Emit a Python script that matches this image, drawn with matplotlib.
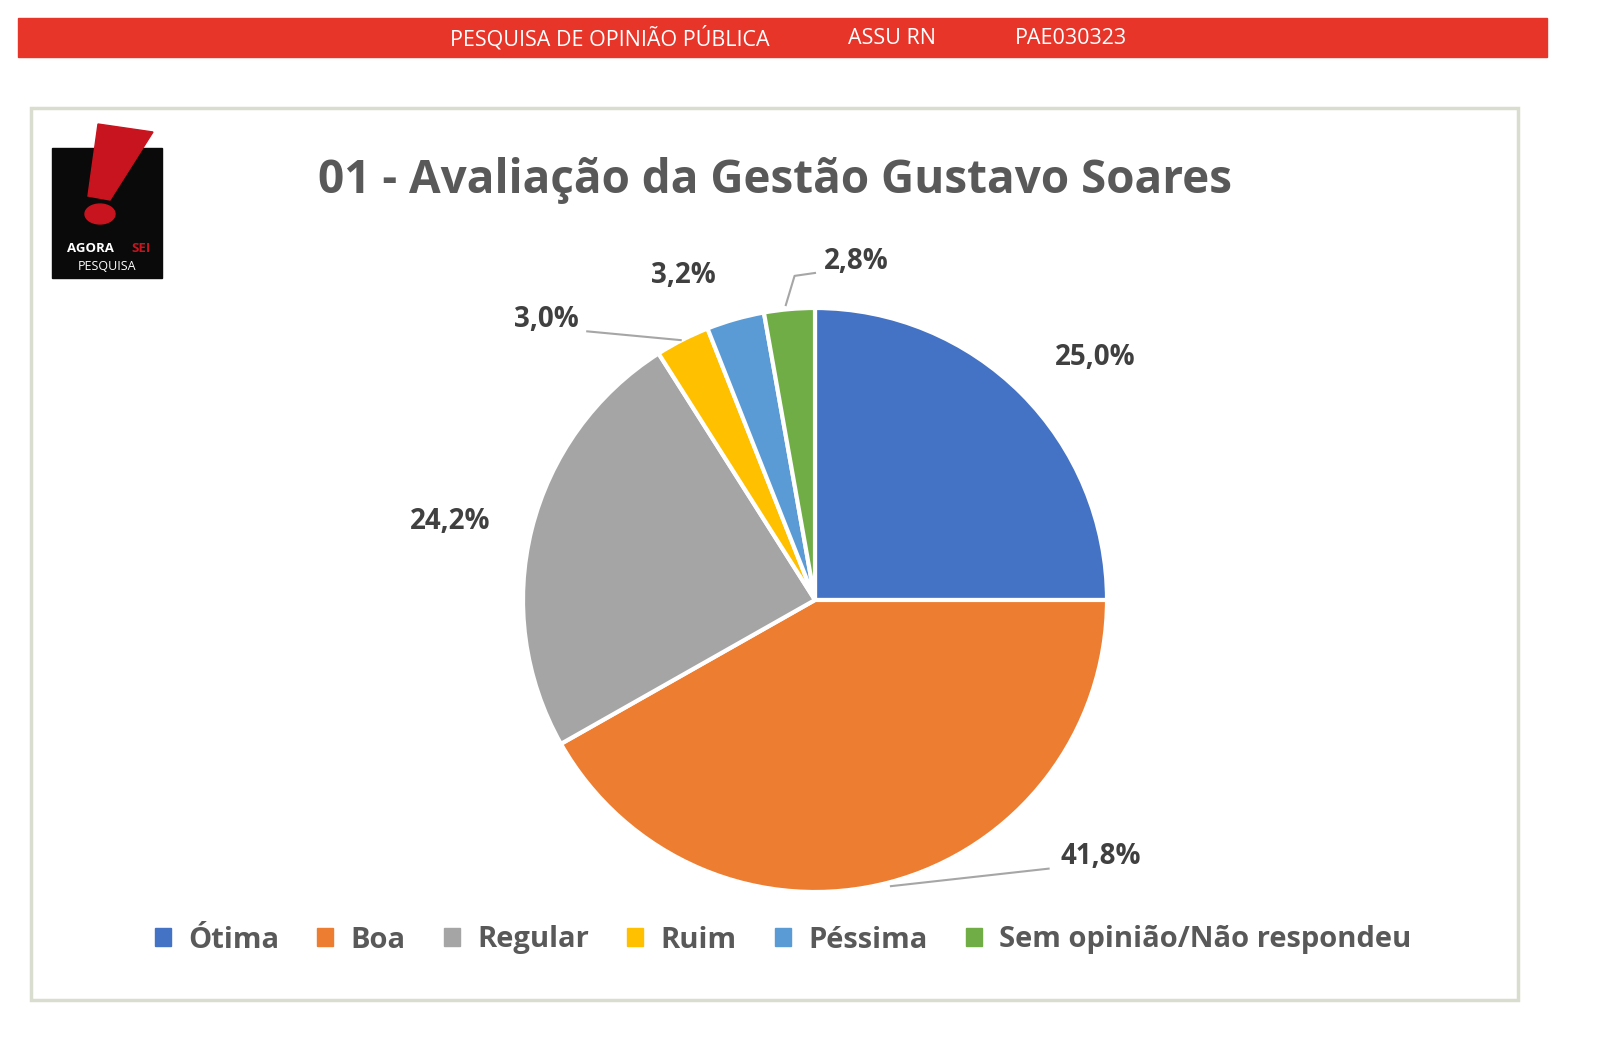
import matplotlib.pyplot as plt
from matplotlib.patches import Rectangle, Polygon, Circle

categories = ["Ótima", "Boa", "Regular", "Ruim", "Péssima", "Sem opinião/Não respondeu"]
values = [25.0, 41.8, 24.2, 3.0, 3.2, 2.8]
colors = ["#4472C4", "#ED7D31", "#A5A5A5", "#FFC000", "#5B9BD5", "#70AD47"]
header_parts = ["PESQUISA DE OPINIÃO PÚBLICA", "ASSU RN", "PAE030323"]
title = "01 - Avaliação da Gestão Gustavo Soares"

plt.rcParams["font.family"] = ["Open Sans", "DejaVu Sans"]
W, H = 1600, 1060
fig = plt.figure(figsize=(16, 10.6), dpi=100)


def fx(px):
    return px / W


def fy(py):
    return 1 - py / H


# header bar
fig.patches.append(Rectangle((fx(18), fy(57)), fx(1547) - fx(18), fy(18) - fy(57),
                             transform=fig.transFigure, color="#E8352A", zorder=0))
for txt, x in zip(header_parts, [610, 892, 1071]):
    fig.text(fx(x), fy(38), txt, color="white", fontsize=15.5, ha="center", va="center")

# chart frame
fig.patches.append(Rectangle((fx(31), fy(1000)), fx(1518) - fx(31), fy(108) - fy(1000),
                             transform=fig.transFigure, fill=False, ec="#D9DDD0", lw=2.5))

# logo
fig.patches.append(Rectangle((fx(52), fy(278)), fx(162) - fx(52), fy(148) - fy(278),
                             transform=fig.transFigure, color="#0A0A0A"))
fig.patches.append(Polygon([(fx(98), fy(124)), (fx(153), fy(132)), (fx(110), fy(200)), (fx(88), fy(196))],
                           closed=True, transform=fig.transFigure, color="#C8141E"))
fig.patches.append(Circle((fx(100), fy(214)), 15 / W, transform=fig.transFigure, color="#C8141E"))
fig.text(fx(90), fy(248), "AGORA", color="white", fontsize=9.5, fontweight="bold", ha="center", va="center")
fig.text(fx(141), fy(248), "SEI", color="#C8141E", fontsize=9.5, fontweight="bold", ha="center", va="center")
fig.text(fx(107), fy(266), "PESQUISA", color="white", fontsize=9, ha="center", va="center")

fig.text(fx(775), fy(180), title, color="#595959", fontsize=33, fontweight="bold", ha="center", va="center")

# pie
cx, cy, r = 815, 600, 292
ax = fig.add_axes([fx(cx - r), fy(cy + r), 2 * r / W, 2 * r / H])
ax.pie(values, colors=colors, startangle=90, counterclock=False,
       wedgeprops=dict(edgecolor="white", linewidth=3))
ax.set_xlim(-1, 1)
ax.set_ylim(-1, 1)
ax.set_aspect("auto")
ax.axis("off")

lab = dict(fontsize=20, fontweight="bold", color="#404040", ha="center", va="center")
ax.text(0.96, 0.83, "25,0%", **lab)
ax.text(-1.25, 0.27, "24,2%", **lab)
ax.text(-0.92, 0.96, "3,0%", **lab)
ax.text(-0.45, 1.11, "3,2%", **lab)
ax.text(0.14, 1.16, "2,8%", **lab)
ax.text(0.98, -0.88, "41,8%", **lab)
ln = dict(color="#A6A6A6", lw=1.5, clip_on=False)
ax.plot([0.26, 0.80], [-0.98, -0.92], **ln)
ax.plot([-0.78, -0.46], [0.92, 0.89], **ln)
ax.plot([-0.10, -0.07, 0.0], [1.01, 1.11, 1.12], **ln)

# legend
handles = [plt.Rectangle((0, 0), 1, 1, color=c) for c in colors]
leg = fig.legend(handles, categories, loc="center", bbox_to_anchor=(fx(783), fy(940)),
                 ncol=6, frameon=False, handlelength=0.55, handleheight=0.55,
                 columnspacing=1.3, handletextpad=0.6,
                 prop=dict(size=21, weight="bold"))
for t in leg.get_texts():
    t.set_color("#595959")

fig.savefig("out.png", dpi=100, facecolor="white")
